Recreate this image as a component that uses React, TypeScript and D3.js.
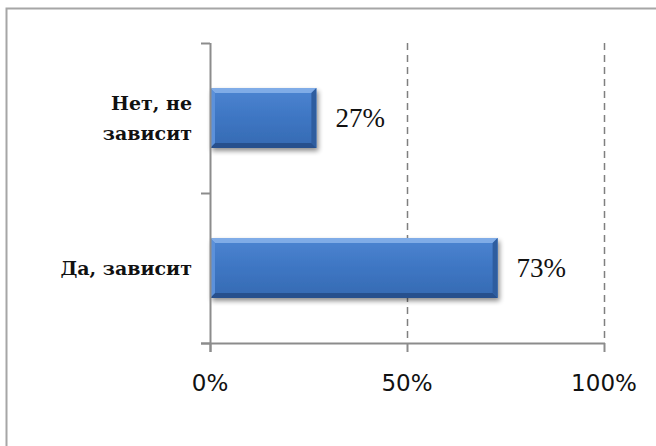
import React, { useEffect, useRef } from 'react';
import * as d3 from 'd3';

const categories = ['Нет, не зависит', 'Да, зависит'];
const categoryLines = [['Нет, не', 'зависит'], ['Да, зависит']];
const values = [27, 73];
const tickValues = [0, 50, 100];

const W = 656;
const H = 446;

const App = () => {
  const svgRef = useRef<SVGSVGElement>(null);

  useEffect(() => {
    const svg = d3.select(svgRef.current);
    svg.selectAll('*').remove();

    const x = d3.scaleLinear().domain([0, 100]).range([210, 604]);
    const y = d3.scaleBand()
      .domain(categories)
      .range([43, 343])
      .paddingInner(0.6)
      .paddingOuter(0.3);

    // outer frame
    svg.append('rect')
      .attr('x', 6.5).attr('y', 8.5)
      .attr('width', 700).attr('height', 500)
      .attr('fill', 'white')
      .attr('stroke', '#a6a6a6')
      .attr('stroke-width', 2);

    // dashed grid lines
    svg.selectAll('line.grid')
      .data(tickValues.slice(1))
      .enter()
      .append('line')
      .attr('class', 'grid')
      .attr('x1', d => x(d) + 0.5).attr('x2', d => x(d) + 0.5)
      .attr('y1', 43).attr('y2', 343)
      .attr('stroke', '#7f7f7f')
      .attr('stroke-width', 1.5)
      .attr('stroke-dasharray', '7,5');

    const defs = svg.append('defs');
    const f = defs.append('filter').attr('id', 'sh').attr('x', '-10%').attr('y', '-20%').attr('width', '130%').attr('height', '160%');
    f.append('feGaussianBlur').attr('in', 'SourceAlpha').attr('stdDeviation', 2.5);
    f.append('feOffset').attr('dx', 2).attr('dy', 3).attr('result', 'b');
    f.append('feComponentTransfer').append('feFuncA').attr('type', 'linear').attr('slope', 0.45);
    const m = f.append('feMerge');
    m.append('feMergeNode');
    m.append('feMergeNode').attr('in', 'SourceGraphic');

    const g = defs.append('linearGradient').attr('id', 'barg').attr('x1', 0).attr('x2', 0).attr('y1', 0).attr('y2', 1);
    g.append('stop').attr('offset', '0%').attr('stop-color', '#4c85d2');
    g.append('stop').attr('offset', '50%').attr('stop-color', '#3e76c3');
    g.append('stop').attr('offset', '100%').attr('stop-color', '#356ab2');

    const bev = 5;
    const serifBold = '"DejaVu Serif", "Liberation Serif", serif';
    const serif = '"Liberation Serif", "Times New Roman", serif';
    categories.forEach((c, i) => {
      const x0 = x(0);
      const x1 = x(values[i]);
      const y0 = y(c)!;
      const y1 = y0 + y.bandwidth();
      const bar = svg.append('g');
      bar.append('rect')
        .attr('x', x0).attr('y', y0)
        .attr('width', x1 - x0).attr('height', y1 - y0)
        .attr('fill', 'url(#barg)')
        .attr('filter', 'url(#sh)');
      const poly = (pts: number[][], fill: string) =>
        bar.append('polygon').attr('points', pts.map(p => p.join(',')).join(' ')).attr('fill', fill);
      poly([[x0, y0], [x1, y0], [x1 - bev, y0 + bev], [x0 + bev, y0 + bev]], '#80ace7');
      poly([[x0, y1], [x1, y1], [x1 - bev, y1 - bev], [x0 + bev, y1 - bev]], '#27508d');
      poly([[x0, y0], [x0 + bev, y0 + bev], [x0 + bev, y1 - bev], [x0, y1]], '#5c91da');
      poly([[x1, y0], [x1 - bev, y0 + bev], [x1 - bev, y1 - bev], [x1, y1]], '#2e5d9f');

      svg.append('text')
        .attr('x', x1 + 19)
        .attr('y', y0 + y.bandwidth() / 2 + 9)
        .attr('font-family', serif)
        .attr('font-size', 27)
        .attr('fill', '#111')
        .text(`${values[i]}%`);

      const lines = categoryLines[i];
      const lh = 30;
      const cy = y0 + y.bandwidth() / 2;
      lines.forEach((ln, j) => {
        svg.append('text')
          .attr('x', 192)
          .attr('y', cy + (j - (lines.length - 1) / 2) * lh + 7)
          .attr('text-anchor', 'end')
          .attr('font-family', serifBold)
          .attr('font-weight', 'bold')
          .attr('font-size', 19)
          .attr('fill', '#111')
          .text(ln);
      });
    });

    // y axis
    svg.append('line')
      .attr('x1', 210.5).attr('x2', 210.5)
      .attr('y1', 43).attr('y2', 352)
      .attr('stroke', '#8c8c8c').attr('stroke-width', 2);
    svg.selectAll('line.ytick')
      .data([43, 43 + 150, 343])
      .enter()
      .append('line')
      .attr('x1', 201).attr('x2', 210)
      .attr('y1', d => d + 0.5).attr('y2', d => d + 0.5)
      .attr('stroke', '#8c8c8c').attr('stroke-width', 2);

    // x axis
    svg.append('line')
      .attr('x1', 201).attr('x2', x(100) + 1)
      .attr('y1', 343.5).attr('y2', 343.5)
      .attr('stroke', '#8c8c8c').attr('stroke-width', 2);
    svg.selectAll('line.xtick')
      .data(tickValues)
      .enter()
      .append('line')
      .attr('x1', d => x(d) + 0.5).attr('x2', d => x(d) + 0.5)
      .attr('y1', 343).attr('y2', 352)
      .attr('stroke', '#8c8c8c').attr('stroke-width', 2);
    svg.selectAll('text.xt')
      .data(tickValues)
      .enter()
      .append('text')
      .attr('x', d => x(d))
      .attr('y', 391)
      .attr('text-anchor', 'middle')
      .attr('font-family', '"DejaVu Sans", sans-serif')
      .attr('font-size', 23)
      .attr('fill', '#111')
      .text(d => `${d}%`);
  }, []);

  return (
    <svg ref={svgRef} width={W} height={H}
      style={{ position: 'absolute', left: 0, top: 0, background: 'white' }} />
  );
};

export default App;
